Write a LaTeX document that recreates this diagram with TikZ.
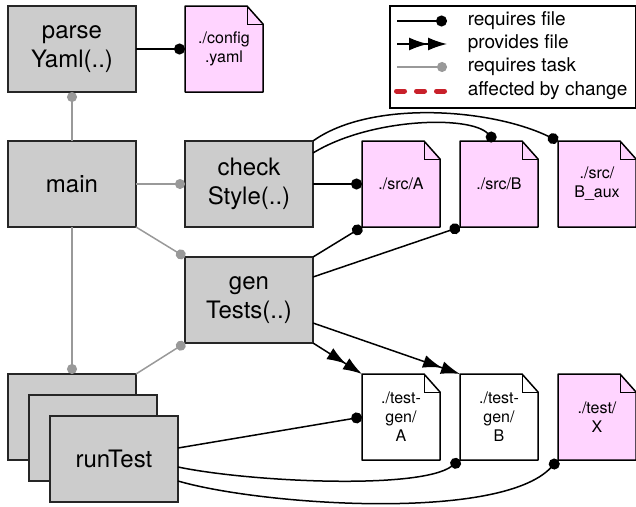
\documentclass[tikz,border=0pt]{standalone}
\usepackage{fontspec}
\setmainfont{TeX Gyre Heros}
\usetikzlibrary{arrows.meta,positioning}
\pgfdeclarelayer{background layer}
\pgfsetlayers{background layer,main}
\definecolor{taskgray}{RGB}{204,204,204}
\definecolor{filepink}{RGB}{255,212,255}
\definecolor{linegray}{RGB}{153,153,153}
\definecolor{changered}{RGB}{200,32,42}

\begin{document}
\begin{tikzpicture}
[x=1pt,y=-1pt,align=center,line width=1.5pt]
\tikzstyle{task}=[fill=taskgray,draw=black!85,minimum width=128pt,minimum height=86pt,inner sep=0pt,outer sep=0pt,font=\fontsize{24}{29}\selectfont]
\tikzstyle{file}=[draw=none,minimum width=78pt,minimum height=86pt,inner sep=0pt,outer sep=0pt,font=\fontsize{16}{19}\selectfont]
\tikzstyle{legtext}=[inner sep=0pt,anchor=west,font=\fontsize{19}{23}\selectfont]
\tikzstyle{reqfile}=[-{Circle[length=11pt]}]
\tikzstyle{reqtask}=[draw=linegray,-{Circle[length=10pt]}]
\tikzstyle{provides}=[-{Latex[length=19pt,width=13pt]Latex[length=19pt,width=13pt]}]
\tikzstyle{changed}=[draw=changered,line width=5pt,line cap=round,dash pattern=on 8pt off 12pt]

\useasboundingbox (0,0) rectangle (636,506);

% tasks and files
\node [task] (parse) at (72,49) {parse\\Yaml(..)};
\node [file,right=49pt of parse] (config) {./config\\.yaml};
\node [task,below=49pt of parse] (main) {main};
\node [task,right=49pt of main] (check) {check\\Style(..)};
\node [task,below=30pt of check] (gen) {gen\\Tests(..)};
\node [file,right=49pt of check] (srcA) {./src/A};
\node [file,right=20pt of srcA] (srcB) {./src/B};
\node [file,right=20pt of srcB] (baux) {./src/\\B\_aux};
\node [file,below=147pt of srcA] (tgA) {./test-\\gen/\\A};
\node [file,below=147pt of srcB] (tgB) {./test-\\gen/\\B};
\node [file,below=147pt of baux] (testX) {./test/\\X};

% stack of runTest instances
\node [task,below=147pt of main] (runA) {};
\node [task] (runB) at ([shift={(21,21)}]runA) {};
\node [task] (runC) at ([shift={(21,21)}]runB) {runTest};

% task dependencies
\draw [reqtask] (main.north) -- (parse.south);
\draw [reqtask] (main.east) -- (check.west);
\draw [reqtask] (main.south east) -- (gen.north west);
\draw [reqtask] (main.south) -- (runA.north);
\draw [reqtask] (runA.north east) -- (gen.south west);

% file dependencies
\draw [reqfile] (parse.east) -- (config.west);
\draw [reqfile] (check.east) -- (srcA.west);
\draw [reqfile] ([yshift=-12pt]check.north east) .. controls (370,118) and (470,115) .. ([xshift=-4pt]srcB.north);
\draw [reqfile] (check.north east) .. controls (370,100) and (490,108) .. (baux.north west);
\draw [reqfile] (gen.north east) -- (srcA.south west);
\draw [reqfile] ([yshift=-20pt]gen.north east) -- (srcB.south west);
\draw [provides] ([yshift=20pt]gen.south east) -- (tgB.north west);
\draw [provides] (gen.south east) -- (tgA.north west);
\draw [reqfile] ([yshift=11pt]runC.east) -- (tgA.west);
\draw [reqfile] ([yshift=-8pt]runC.east) .. controls (250,482) and (420,490) .. (tgB.south west);
\draw [reqfile] ([yshift=-22pt]runC.east) .. controls (260,505) and (500,522) .. (testX.south west);

% legend
\node [draw,anchor=north west,minimum width=246pt,minimum height=102pt,inner sep=0pt] (legend) at (389,5) {};
\coordinate (k1) at (397,21);   \coordinate (k1e) at (447,21);
\coordinate (k2) at (397,44);   \coordinate (k2e) at (447,44);
\coordinate (k3) at (397,67);   \coordinate (k3e) at (447,67);
\coordinate (k4) at (396.5,91); \coordinate (k4e) at (444.5,91);
\draw [reqfile] (k1) -- (k1e);
\draw [provides] (k2) -- (k2e);
\draw [reqtask] (k3) -- (k3e);
\draw [changed] (k4) -- (k4e);
\node [legtext] (t1) at (467,21) {requires file};
\node [legtext] (t2) at (467,44) {provides file};
\node [legtext] (t3) at (467,67) {requires task};
\node [legtext] (t4) at (467,91) {affected by change};

% file outlines with folded corner
\begin{pgfonlayer}{background layer}
\foreach \f/\col in {config/filepink,srcA/filepink,srcB/filepink,baux/filepink,tgA/white,tgB/white,testX/filepink}{
  \filldraw [fill=\col,draw=black,line width=1.5pt,line join=round] (\f.south west) -- (\f.north west)
    -- ([xshift=-16pt]\f.north east) -- ([yshift=-18pt]\f.north east) -- (\f.south east) -- cycle;
  \draw [draw=black,line width=1pt] ([xshift=-16pt]\f.north east) -- ([xshift=-16pt,yshift=-18pt]\f.north east)
    -- ([yshift=-18pt]\f.north east);
}
\end{pgfonlayer}

\end{tikzpicture}
\end{document}
